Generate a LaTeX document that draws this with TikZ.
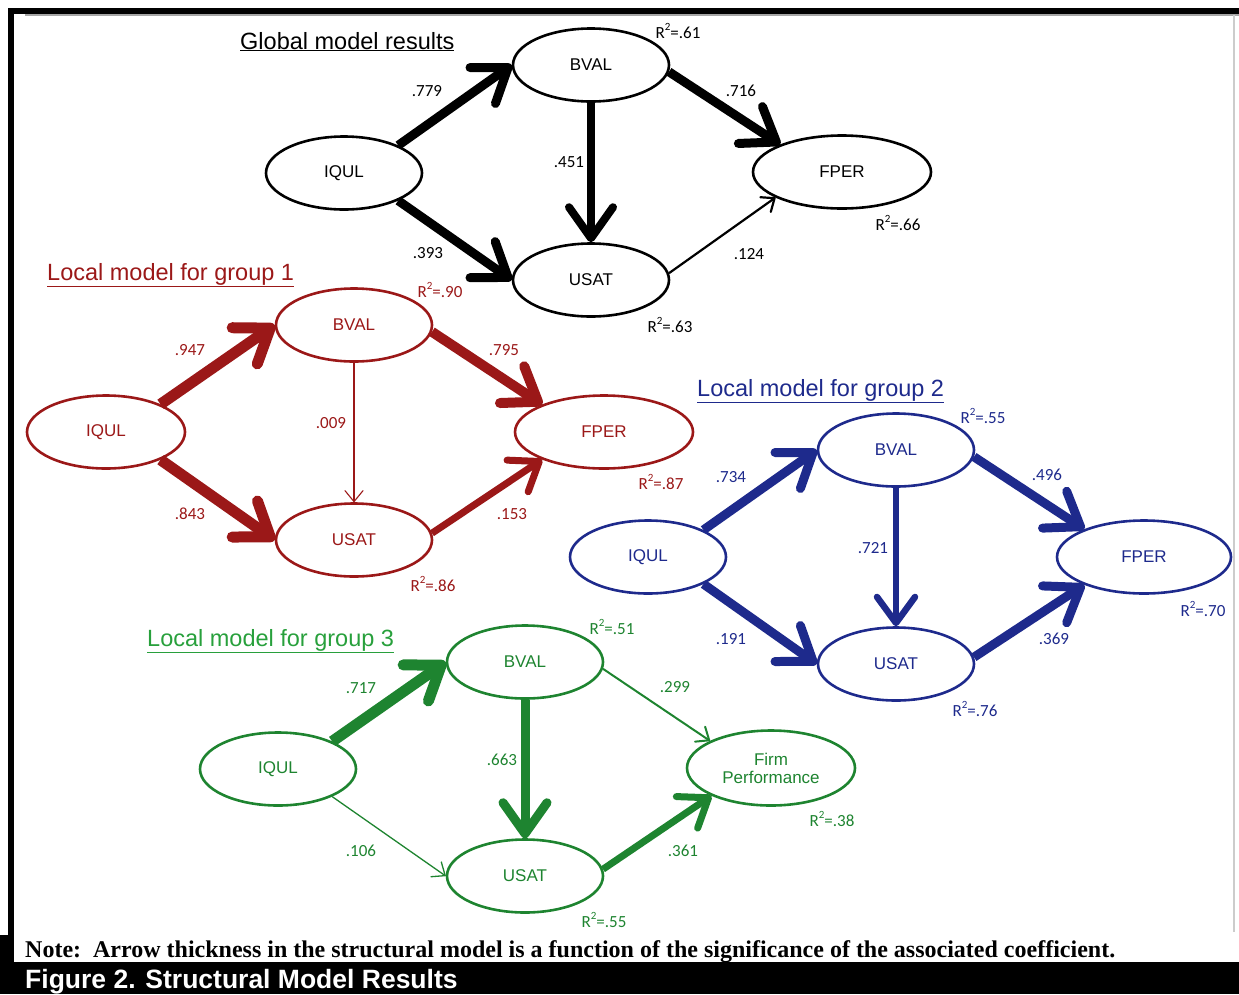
\documentclass[tikz,border=0pt]{standalone}
\usepackage{fontspec}
\setmainfont{Liberation Sans}
\newfontfamily\numfont{Carlito}
\newfontfamily\notefont{Liberation Serif}
\usetikzlibrary{shapes.geometric,arrows.meta}
\definecolor{cred}{RGB}{155,24,24}
\definecolor{cblue}{RGB}{30,42,140}
\definecolor{cgreen}{RGB}{30,132,48}
\definecolor{ctitlegreen}{RGB}{40,160,60}
\newcommand\rsq[1]{R\raisebox{.42em}{\fontsize{11}{11}\selectfont 2}=#1}
\tikzset{
  ell/.style={ellipse, draw, line width=2.6pt, minimum width=156pt, minimum height=73pt, inner sep=0pt, font=\fontsize{17}{20}\selectfont},
  num/.style={font=\numfont\fontsize{17}{19}\selectfont, inner sep=0pt},
  ttl/.style={anchor=base west, inner sep=0pt, font=\fontsize{23.5}{26}\selectfont},
  bigarr/.style={line width=#1, -{Straight Barb[length=31pt,width=44pt,round]}},
  midarr/.style={line width=#1, -{Straight Barb[length=26pt,width=38pt,round]}},
  thinarr/.style={line width=#1, -{Straight Barb[length=11pt,width=18pt,round]}},
}
\begin{document}
\begin{tikzpicture}[x=1pt,y=-1pt]
\useasboundingbox (0,0) rectangle (1239,994);
% frame
\fill[black] (8,8) rectangle (1239,14);
\fill[black] (8,8) rectangle (14,994);
\fill[black] (0,935) rectangle (14,994);
\draw[gray!70, line width=1.5pt] (25,15) -- (1239,15);
\draw[gray!40, line width=1.5pt] (1234,15) -- (1234,932);
\fill[black] (0,962) rectangle (1239,994);

% ---------- Global ----------
\node[ttl] (gt) at (240,49) {\underline{Global model results}};
\node[ell] (g-iqul) at (344,173) {IQUL};
\node[ell] (g-bval) at (591,65) {BVAL};
\node[ell, minimum width=178pt] (g-fper) at (842,172) {FPER};
\node[ell] (g-usat) at (591,280) {USAT};
\draw[bigarr=9pt] (g-iqul.27) -- (g-bval.west);
\draw[bigarr=9pt] (g-iqul.-27) -- (g-usat.west);
\draw[bigarr=8pt] (g-bval.south) -- (g-usat.north);
\draw[bigarr=9pt] (g-bval.-5) -- (g-fper.156);
\draw[thinarr=2.2pt] (g-usat.5) -- (g-fper.201);
\node[num] (gl1) at (427,91) {.779};
\node[num] (gl2) at (428,253) {.393};
\node[num] (gl3) at (569,162) {.451};
\node[num] (gl4) at (741,91) {.716};
\node[num] (gl5) at (749,254) {.124};
\node[num] (gr1) at (678,31) {\rsq{.61}};
\node[num] (gr2) at (898,223) {\rsq{.66}};
\node[num] (gr3) at (670,325) {\rsq{.63}};

% ---------- Group 1 ----------
\begin{scope}[cred]
\node[ttl] (t1) at (47,280) {\underline{Local model for group 1}};
\node[ell, minimum width=158pt] (a-iqul) at (106,432) {IQUL};
\node[ell] (a-bval) at (354,325) {BVAL};
\node[ell, minimum width=178pt] (a-fper) at (604,432) {FPER};
\node[ell] (a-usat) at (354,540) {USAT};
\draw[bigarr=11pt] (a-iqul.27) -- (a-bval.west);
\draw[bigarr=11pt] (a-iqul.-27) -- (a-usat.west);
\draw[thinarr=1.1pt] (a-bval.south) -- (a-usat.north);
\draw[bigarr=10pt] (a-bval.-5) -- (a-fper.156);
\draw[midarr=7pt] (a-usat.5) -- (a-fper.204);
\node[num] (al1) at (190,350) {.947};
\node[num] (al2) at (190,514) {.843};
\node[num] (al3) at (331,423) {.009};
\node[num] (al4) at (504,350) {.795};
\node[num] (al5) at (512,514) {.153};
\node[num] (ar1) at (440,290) {\rsq{.90}};
\node[num] (ar2) at (661,482) {\rsq{.87}};
\node[num] (ar3) at (433,584) {\rsq{.86}};
\end{scope}

% ---------- Group 2 ----------
\begin{scope}[cblue]
\node[ttl] (t2) at (697,396) {\underline{Local model for group 2}};
\node[ell] (b-iqul) at (648,557) {IQUL};
\node[ell] (b-bval) at (896,450) {BVAL};
\node[ell, minimum width=174pt] (b-fper) at (1144,557) {FPER};
\node[ell] (b-usat) at (896,664) {USAT};
\draw[bigarr=9pt] (b-iqul.26) -- (b-bval.west);
\draw[bigarr=9pt] (b-iqul.-26) -- (b-usat.west);
\draw[midarr=6.5pt] (b-bval.south) -- (b-usat.north);
\draw[bigarr=9pt] (b-bval.-5) -- (b-fper.155);
\draw[bigarr=9pt] (b-usat.5) -- (b-fper.205);
\node[num] (bl1) at (731,477) {.734};
\node[num] (bl2) at (731,639) {.191};
\node[num] (bl3) at (873,548) {.721};
\node[num] (bl4) at (1047,475) {.496};
\node[num] (bl5) at (1054,639) {.369};
\node[num] (br1) at (983,416) {\rsq{.55}};
\node[num] (br2) at (1203,609) {\rsq{.70}};
\node[num] (br3) at (975,709) {\rsq{.76}};
\end{scope}

% ---------- Group 3 ----------
\begin{scope}[cgreen]
\node[ttl, ctitlegreen] (t3) at (147,646) {\underline{Local model for group 3}};
\node[ell] (c-iqul) at (278,769) {IQUL};
\node[ell] (c-bval) at (525,662) {BVAL};
\node[ell, minimum width=168pt, minimum height=75pt, align=center] (c-fp) at (771,768) {Firm\\[-2pt]Performance};
\node[ell] (c-usat) at (525,876) {USAT};
\draw[bigarr=11pt] (c-iqul.27) -- (c-bval.west);
\draw[thinarr=1.3pt] (c-iqul.-27) -- (c-usat.west);
\draw[bigarr=9pt] (c-bval.south) -- (c-usat.north);
\draw[thinarr=2pt] (c-bval.-5) -- (c-fp.156);
\draw[midarr=7pt] (c-usat.5) -- (c-fp.205);
\node[num] (cl1) at (361,688) {.717};
\node[num] (cl2) at (361,851) {.106};
\node[num] (cl3) at (502,760) {.663};
\node[num] (cl4) at (675,687) {.299};
\node[num] (cl5) at (683,851) {.361};
\node[num] (cr1) at (612,627) {\rsq{.51}};
\node[num] (cr2) at (832,819) {\rsq{.38}};
\node[num] (cr3) at (604,920) {\rsq{.55}};
\end{scope}

% ---------- note and caption ----------
\node[anchor=base west, inner sep=0pt, font=\notefont\bfseries\fontsize{24}{26}\selectfont] (note) at (25,957)
  {Note:\ \ Arrow thickness in the structural model is a function of the significance of the associated coefficient.};
\node[anchor=base west, inner sep=0pt, text=white, font=\bfseries\fontsize{26.5}{30}\selectfont] (cap) at (25,988)
  {Figure 2. Structural Model Results};
\end{tikzpicture}
\end{document}
